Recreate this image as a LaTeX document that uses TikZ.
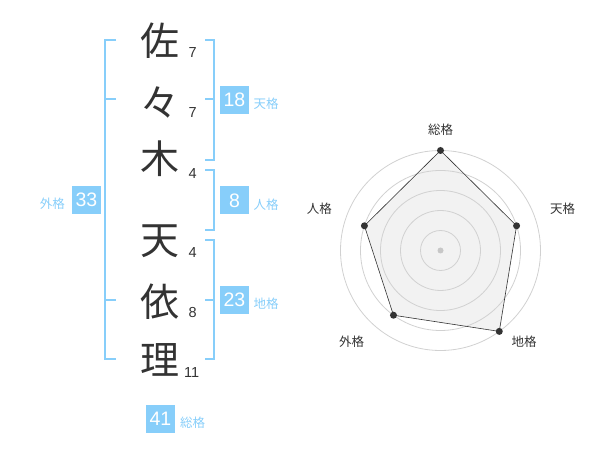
\documentclass[tikz,border=0pt]{standalone}
\usepackage{fontspec}
\setmainfont{Liberation Sans}
\newfontfamily\jp{Noto Sans CJK JP}
\usepackage{tikz}
\definecolor{kaku}{HTML}{87CEFA}
\definecolor{ink}{HTML}{333333}
\tikzstyle{kanji} = [text=ink, inner sep=0pt, font=\jp\fontsize{39}{39}\selectfont]
\tikzstyle{strokes} = [text=ink, inner sep=0pt, font=\fontsize{14.5}{14.5}\selectfont]
\tikzstyle{score} = [fill=kaku, text=white, inner sep=0pt, minimum width=29pt, minimum height=28pt, font=\fontsize{19.5}{19.5}\selectfont]
\tikzstyle{kakuname} = [text=kaku, inner sep=0pt, font=\jp\fontsize{12.5}{12.5}\selectfont]
\tikzstyle{bracket} = [draw=kaku, line width=2pt]
\tikzstyle{axisname} = [text=ink, inner sep=0pt, font=\jp\fontsize{12.5}{12.5}\selectfont]
\tikzstyle{ring} = [draw=black!18, line width=0.8pt]
\tikzstyle{spot} = [circle, fill=ink, inner sep=0pt, minimum size=7pt]

\begin{document}
\begin{tikzpicture}[x=1pt, y=-1pt]
	\useasboundingbox (0,0) rectangle (600,470);
	% name and stroke counts
	\node[kanji] (sa) at (160, 40.8) {佐};
	\node[kanji] (no) at (160, 102.5) {々};
	\node[kanji] (ki) at (160, 158.8) {木};
	\node[kanji] (te) at (160, 241) {天};
	\node[kanji] (yo) at (160, 302) {依};
	\node[kanji] (ri) at (160, 360) {理};
	\node[strokes] at (192.7, 53) {7};
	\node[strokes] at (192.7, 113) {7};
	\node[strokes] at (192.7, 173.3) {4};
	\node[strokes] at (192.7, 252.7) {4};
	\node[strokes] at (192.7, 313) {8};
	\node[strokes] at (191.7, 373) {11};
	% brackets
	\draw[bracket] (116, 40) -- (105, 40) -- (105, 359.3) -- (116, 359.3);
	\draw[bracket] (105, 99.3) -- (116, 99.3);
	\draw[bracket] (105, 300) -- (116, 300);
	\draw[bracket] (205, 40) -- (214.3, 40) -- (214.3, 160) -- (205, 160);
	\draw[bracket] (205, 99.3) -- (214.3, 99.3);
	\draw[bracket] (205, 170) -- (214.3, 170) -- (214.3, 230) -- (205, 230);
	\draw[bracket] (205, 240) -- (214.3, 240) -- (214.3, 359.3) -- (205, 359.3);
	\draw[bracket] (205, 300) -- (214.3, 300);
	% scores
	\node[score] (tenkaku) at (234.5, 100.2) {18};
	\node[score] (jinkaku) at (234.5, 200.5) {8};
	\node[score] (chikaku) at (234.5, 300.2) {23};
	\node[score] (gaikaku) at (86.5, 200) {33};
	\node[score] (sokaku) at (160.5, 419.2) {41};
	\node[kakuname, anchor=west] at (253.5, 104) {天格};
	\node[kakuname, anchor=west] at (253.5, 204.5) {人格};
	\node[kakuname, anchor=west] at (253.5, 304) {地格};
	\node[kakuname, anchor=east] at (65, 204) {外格};
	\node[kakuname, anchor=west] at (180, 422.5) {総格};
	% radar
	\begin{scope}[shift={(440.5, 250.5)}, y=1pt]
		\coordinate (zo) at (90:100);
		\coordinate (tn) at (18:80);
		\coordinate (ch) at (-54:100);
		\coordinate (ga) at (-126:80);
		\coordinate (jn) at (162:80);
		\fill[black!5] (zo) -- (tn) -- (ch) -- (ga) -- (jn) -- cycle;
		\foreach \r in {20, 40, ..., 100}
			\draw[ring] (0, 0) circle[radius=\r];
		\draw[ink, line width=0.6pt] (zo) -- (tn) -- (ch) -- (ga) -- (jn) -- cycle;
		\foreach \p in {zo, tn, ch, ga, jn}
			\node[spot] at (\p) {};
		\node[spot, fill=black!22, minimum size=6pt] (mid) at (0, 0) {};
	\end{scope}
	\node[axisname] at (440.7, 130) {総格};
	\node[axisname] at (562.7, 208.3) {天格};
	\node[axisname] at (524, 341.7) {地格};
	\node[axisname] at (351.7, 341.7) {外格};
	\node[axisname] at (319.3, 208.3) {人格};
\end{tikzpicture}
\end{document}
